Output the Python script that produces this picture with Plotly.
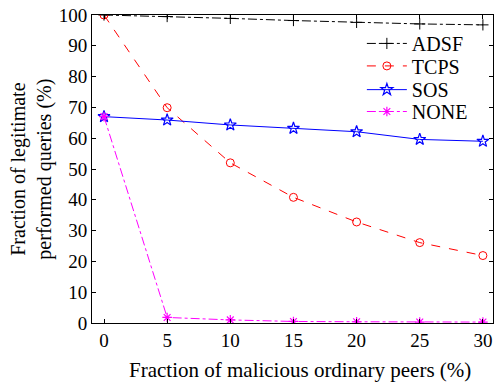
import plotly.graph_objects as go

x_vals = [0, 5, 10, 15, 20, 25, 30]
adsf = [100, 99.5, 98.9, 98.2, 97.6, 97.1, 96.8]
tcps = [100, 69.9, 52.0, 40.8, 32.8, 26.1, 21.9]
sos = [67.0, 65.9, 64.3, 63.2, 62.1, 59.6, 59.0]
none = [67.0, 1.8, 1.0, 0.5, 0.4, 0.3, 0.3]

fam = "Liberation Serif"

fig = go.Figure()
fig.add_trace(go.Scatter(x=x_vals, y=adsf, name="ADSF", mode="lines+markers", legend="legend",
                         line=dict(color="black", width=1, dash="dashdot"),
                         marker=dict(symbol="cross-thin-open", size=8, color="black",
                                     line=dict(color="black", width=1))))
fig.add_trace(go.Scatter(x=x_vals, y=tcps, name="TCPS", mode="lines+markers", legend="legend2",
                         line=dict(color="red", width=1, dash="dash"),
                         marker=dict(symbol="circle-open", size=8, color="red",
                                     line=dict(color="red", width=1))))
fig.add_trace(go.Scatter(x=x_vals, y=sos, name="SOS", mode="lines+markers", legend="legend3",
                         line=dict(color="blue", width=1),
                         marker=dict(symbol="star-open", size=9, color="blue",
                                     line=dict(color="blue", width=1.2))))
fig.add_trace(go.Scatter(x=x_vals, y=none, name="NONE", mode="lines+markers", legend="legend4",
                         line=dict(color="magenta", width=1, dash="dashdot"),
                         marker=dict(symbol="asterisk-open", size=8, color="magenta",
                                     line=dict(color="magenta", width=1.2))))

def leg(y):
    return dict(x=0.673, y=y, xanchor="left", yanchor="top",
                bgcolor="rgba(255,255,255,0)", borderwidth=0,
                font=dict(family=fam, size=20, color="black"), itemwidth=40)

fig.update_layout(
    width=494, height=383,
    margin=dict(l=92, r=1, t=15, b=60, autoexpand=False),
    paper_bgcolor="white", plot_bgcolor="white",
    font=dict(family=fam, size=19, color="black"),
    showlegend=True,
    legend=leg(0.971), legend2=leg(0.898), legend3=leg(0.821), legend4=leg(0.750),
    xaxis=dict(range=[-0.95, 30.8], tickvals=[0, 5, 10, 15, 20, 25, 30],
               ticks="inside", ticklen=4, tickcolor="black", mirror="ticks",
               showline=True, linecolor="black", linewidth=1, showgrid=False,
               zeroline=False, automargin=False,
               tickfont=dict(family=fam, size=19, color="black")),
    yaxis=dict(range=[0, 100], tickvals=list(range(0, 101, 10)),
               ticks="inside", ticklen=4, tickcolor="black", mirror="ticks",
               showline=True, linecolor="black", linewidth=1, showgrid=False,
               zeroline=False, automargin=False,
               tickfont=dict(family=fam, size=19, color="black")),
    annotations=[
        dict(text="Fraction of malicious ordinary peers (%)", xref="paper", yref="paper",
             x=0.519, y=-0.153, xanchor="center", yanchor="middle", showarrow=False,
             font=dict(family=fam, size=21, color="black")),
        dict(text="Fraction of legitimate<br>performed queries (%)", xref="paper", yref="paper",
             x=-0.153, y=0.5, xanchor="center", yanchor="middle", showarrow=False,
             textangle=-90, font=dict(family=fam, size=20, color="black")),
    ],
)
fig.write_html("out.html", config={"displayModeBar": False},
               post_script="document.body.style.margin='0';document.body.style.padding='0';")
